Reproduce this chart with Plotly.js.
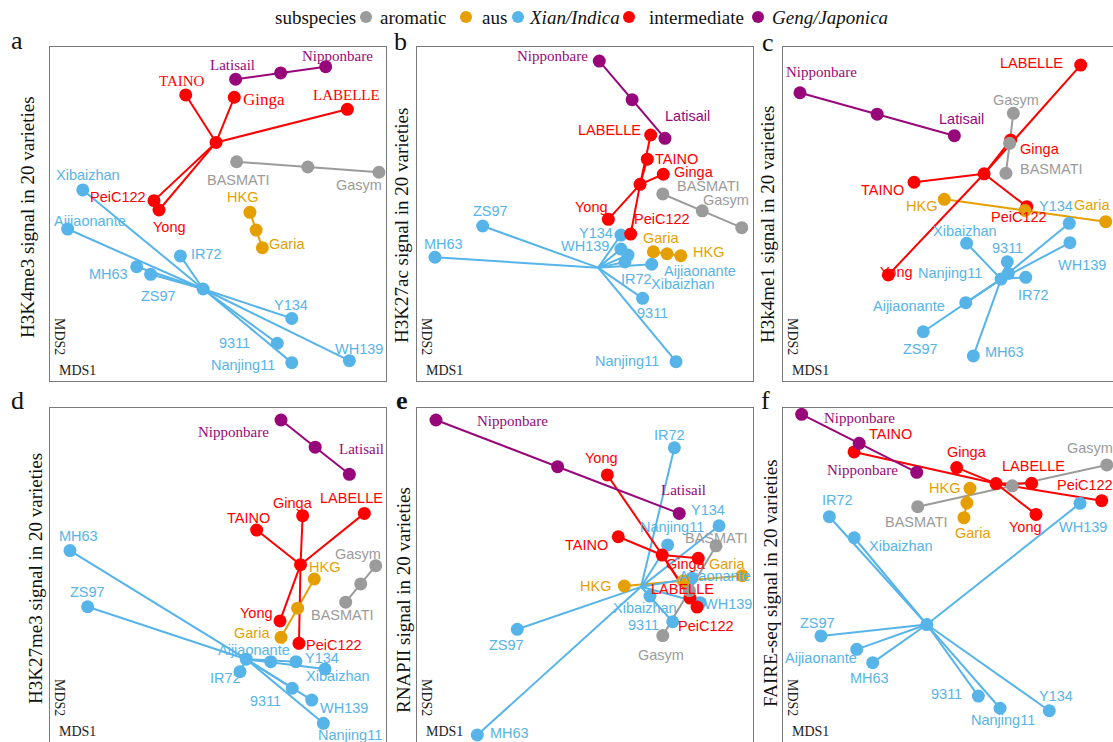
<!DOCTYPE html>
<html>
<head>
<meta charset="utf-8">
<script src="https://cdn.plot.ly/plotly-3.0.1.min.js"></script>
<style>
  html, body { margin: 0; padding: 0; overflow: hidden; background: #ffffff; }
  #chart { width: 1120px; height: 746px; }
</style>
</head>
<body>
<div id="chart"></div>
<script>
// ---- varieties and their subspecies ----
const varieties = ["Nipponbare", "Latisail", "TAINO", "Ginga", "LABELLE", "PeiC122", "Yong",
  "BASMATI", "Gasym", "HKG", "Garia", "Xibaizhan", "Aijiaonante", "MH63", "ZS97", "IR72",
  "Y134", "9311", "WH139", "Nanjing11"];
const subspecies = ["Geng/Japonica", "Geng/Japonica", "intermediate", "intermediate", "intermediate",
  "intermediate", "intermediate", "aromatic", "aromatic", "aus", "aus", "Xian/Indica", "Xian/Indica",
  "Xian/Indica", "Xian/Indica", "Xian/Indica", "Xian/Indica", "Xian/Indica", "Xian/Indica", "Xian/Indica"];
const groups = ["aromatic", "aus", "Xian/Indica", "intermediate", "Geng/Japonica"];
const groupLegendText = ["aromatic", "aus", "<i>Xian/Indica</i>", "intermediate", "<i>Geng/Japonica</i>"];

// ---- MDS coordinates (MDS1, MDS2) for each assay ----
const h3k4me3X = [0.641, 0.105, -0.192, 0.097, 0.770, -0.381, -0.351, 0.111, 0.958, 0.190, 0.264, -0.805, -0.895, -0.484, -0.401, -0.224, 0.439, 0.353, 0.782, 0.439];
const h3k4me3Y = [0.882, 0.807, 0.713, 0.699, 0.627, 0.080, 0.024, 0.313, 0.250, 0.010, -0.202, 0.144, -0.090, -0.316, -0.361, -0.251, -0.625, -0.774, -0.878, -0.890];

const h3k27acX = [0.085, 0.476, 0.371, 0.466, 0.391, 0.272, 0.139, 0.463, 0.933, 0.570, 0.407, 0.256, 0.397, -0.893, -0.609, 0.238, 0.214, 0.343, 0.214, 0.542];
const h3k27acY = [0.916, 0.453, 0.328, 0.238, 0.473, -0.120, -0.032, 0.120, -0.082, -0.250, -0.226, -0.246, -0.301, -0.259, -0.072, -0.287, -0.126, -0.505, -0.210, -0.884];

const h3k4me1X = [-0.899, 0.020, -0.220, 0.355, 0.772, 0.451, -0.373, 0.327, 0.371, -0.040, 0.921, 0.093, 0.088, 0.133, -0.165, 0.445, 0.704, 0.335, 0.708, 0.341];
const h3k4me1Y = [0.726, 0.469, 0.190, 0.443, 0.892, 0.044, -0.365, 0.244, 0.603, 0.088, -0.046, -0.175, -0.531, -0.850, -0.705, -0.379, -0.056, -0.286, -0.172, -0.355];

const h3k27me3X = [0.375, 0.782, 0.230, 0.504, 0.871, 0.482, 0.369, 0.760, 0.939, 0.573, 0.375, 0.637, 0.314, -0.881, -0.776, 0.131, 0.464, 0.442, 0.558, 0.627];
const h3k27me3Y = [0.928, 0.603, 0.269, 0.355, 0.369, -0.409, -0.275, -0.163, 0.056, -0.024, -0.373, -0.563, -0.519, 0.146, -0.190, -0.579, -0.519, -0.678, -0.749, -0.888];

const rnapiiX = [-0.887, 0.561, 0.198, 0.674, 0.625, 0.667, 0.133, 0.780, 0.463, 0.234, 0.936, 0.387, 0.635, -0.641, -0.403, 0.532, 0.798, 0.522, 0.685, 0.492];
const rnapiiY = [0.928, 0.369, 0.229, 0.100, -0.138, -0.192, 0.599, 0.175, -0.363, -0.066, -0.004, -0.126, -0.020, -0.958, -0.325, 0.762, 0.295, -0.280, -0.166, 0.180];

const faireX = [-0.889, -0.204, -0.577, 0.034, 0.480, 0.897, 0.506, -0.198, 0.927, 0.113, 0.077, -0.576, -0.561, -0.466, -0.774, -0.724, 0.585, 0.163, 0.768, 0.292];
const faireY = [0.962, 0.615, 0.737, 0.643, 0.549, 0.445, 0.363, 0.409, 0.659, 0.519, 0.343, 0.223, -0.445, -0.525, -0.365, 0.349, -0.813, -0.725, 0.429, -0.798];

// point labels as printed in the FAIRE-seq panel
const faireLabels = ["Nipponbare", "Nipponbare", "TAINO", "Ginga", "LABELLE", "PeiC122", "Yong",
  "BASMATI", "Gasym", "HKG", "Garia", "Xibaizhan", "Aijiaonante", "MH63", "ZS97", "IR72",
  "Y134", "9311", "WH139", "Nanjing11"];

const panelTitles = ["H3K4me3 signal in 20 varieties", "H3K27ac signal in 20 varieties",
  "H3k4me1 signal in 20 varieties", "H3K27me3 signal in 20 varieties",
  "RNAPII signal in 20 varieties", "FAIRE-seq signal in 20 varieties"];
const panelLetters = ["a", "b", "c", "d", "e", "f"];

// ---- styling ----
const W = 1120, H = 746;
const colors = {
  "aromatic": "#9b9b9b",
  "aus": "#E69F00",
  "Xian/Indica": "#56B4E9",
  "intermediate": "#FF0000",
  "Geng/Japonica": "#98077A"
};
const SERIF = "Liberation Serif, Times New Roman, serif";
const SANS = "Liberation Sans, Arial, sans-serif";

// plot frames in page pixels: [left, top], each 336 x 334
const frames = [[50, 47], [417, 47], [783, 47], [50, 408], [417, 408], [783, 408]];
const PW = 336, PH = 334;

// label nudges (px, right / up) per panel, in variety order
const nudges = [
  [[12,11],[-3,14],[-4,14],[30,-2],[-1,14],[-36,4],[10,-17],[2,-18],[-20,-13],[-7,15],[25,4],[5,15],[22,8],[-28,-7],[8,-22],[26,2],[-1,13],[-43,0],[10,12],[-49,-2]],
  [[-47,5],[23,22],[29,0],[31,2],[-41,5],[31,15],[-17,12],[46,8],[-16,28],[28,4],[8,14],[55,-29],[48,-7],[9,13],[8,15],[12,-17],[-25,2],[10,-15],[-36,3],[-49,1]],
  [[22,21],[7,17],[-32,-8],[29,-9],[-49,2],[-8,-10],[8,3],[46,4],[3,13],[-23,-7],[-14,17],[-2,12],[-57,-3],[31,4],[-3,-17],[8,-18],[-13,17],[0,14],[12,-22],[-58,0]],
  [[-48,-12],[12,25],[-8,12],[-10,13],[-13,15],[35,-2],[-23,8],[-3,-13],[-18,12],[10,12],[-29,4],[13,-7],[-17,12],[9,15],[0,15],[-15,-6],[26,4],[-27,-13],[32,-8],[27,-12]],
  [[77,-1],[4,23],[-32,-8],[-12,-6],[-8,9],[9,-19],[-6,17],[0,8],[-2,-19],[-29,0],[-15,12],[-5,-12],[23,2],[32,2],[-11,-16],[-5,13],[-11,16],[-29,-3],[28,-1],[4,18]],
  [[58,-4],[-54,2],[36,18],[10,16],[2,17],[-17,16],[-11,-13],[-1,-15],[-17,17],[-25,0],[9,-15],[47,-8],[-36,-9],[-3,-15],[-3,13],[8,17],[7,15],[-32,2],[3,-24],[3,-12]]
];
// labels set in a serif face (with size) per panel
const serifLabels = [
  {"Nipponbare": 15, "Latisail": 15, "TAINO": 15, "Ginga": 17, "LABELLE": 15},
  {"Nipponbare": 15},
  {"Nipponbare": 15},
  {"Nipponbare": 15, "Latisail": 15},
  {"Nipponbare": 15, "Latisail": 15},
  {"Nipponbare": 15}
];
// group centres drawn without a dot
const hiddenCentres = [[], ["Xian/Indica"], [], [], ["Xian/Indica"], []];
// positions of the side titles and panel letters (page px)
const titlePos = [[27, 217], [402, 226], [768, 225], [35, 579], [403, 600], [770, 583]];
const letterPos = [[17, 40], [400, 41], [768, 42], [17, 400], [402, 400], [765, 400]];

const panelData = [
  [h3k4me3X, h3k4me3Y, varieties],
  [h3k27acX, h3k27acY, varieties],
  [h3k4me1X, h3k4me1Y, varieties],
  [h3k27me3X, h3k27me3Y, varieties],
  [rnapiiX, rnapiiY, varieties],
  [faireX, faireY, faireLabels]
];

const px = v => v / W;
const py = v => 1 - v / H;
const mean = a => a.reduce((s, v) => s + v, 0) / a.length;

const traces = [];
const annotations = [];
const shapes = [];
const layout = {
  width: W, height: H,
  margin: {l: 0, r: 0, t: 0, b: 0},
  paper_bgcolor: "#ffffff", plot_bgcolor: "#ffffff",
  showlegend: false,
  hovermode: false
};

panelData.forEach(([xs, ys, labels], p) => {
  const k = p + 1;
  const xa = k === 1 ? "x" : "x" + k;
  const ya = k === 1 ? "y" : "y" + k;
  const [left, top] = frames[p];

  const axisCommon = {
    range: [-1, 1], showgrid: false, zeroline: false, showticklabels: false, ticks: "",
    showline: true, mirror: true, linecolor: "#7a7a7a", linewidth: 1.2, fixedrange: true
  };
  layout[k === 1 ? "xaxis" : "xaxis" + k] = Object.assign({}, axisCommon,
    {domain: [px(left), px(left + PW)], anchor: ya});
  layout[k === 1 ? "yaxis" : "yaxis" + k] = Object.assign({}, axisCommon,
    {domain: [py(top + PH), py(top)], anchor: xa});

  const centres = {};
  groups.forEach(g => {
    const idx = subspecies.map((s, i) => s === g ? i : -1).filter(i => i >= 0);
    centres[g] = {idx, cx: mean(idx.map(i => xs[i])), cy: mean(idx.map(i => ys[i]))};
  });

  // spokes from each group centre to its members
  groups.forEach(g => {
    const c = centres[g];
    const sx = [], sy = [];
    c.idx.forEach(i => { sx.push(c.cx, xs[i], null); sy.push(c.cy, ys[i], null); });
    traces.push({x: sx, y: sy, xaxis: xa, yaxis: ya, type: "scatter", mode: "lines",
      line: {color: colors[g], width: 2}, hoverinfo: "skip"});
  });
  // varieties
  groups.forEach(g => {
    const c = centres[g];
    traces.push({x: c.idx.map(i => xs[i]), y: c.idx.map(i => ys[i]), xaxis: xa, yaxis: ya,
      type: "scatter", mode: "markers", marker: {color: colors[g], size: 13, line: {width: 0}},
      hoverinfo: "skip"});
  });
  // group centres
  groups.forEach(g => {
    if (hiddenCentres[p].includes(g)) return;
    const c = centres[g];
    traces.push({x: [c.cx], y: [c.cy], xaxis: xa, yaxis: ya, type: "scatter", mode: "markers",
      marker: {color: colors[g], size: 13, line: {width: 0}}, hoverinfo: "skip"});
  });

  // variety labels
  labels.forEach((name, i) => {
    const serifSize = serifLabels[p][name];
    annotations.push({
      x: xs[i], y: ys[i], xref: xa, yref: ya, text: name, showarrow: false,
      xshift: nudges[p][i][0], yshift: nudges[p][i][1],
      font: {family: serifSize ? SERIF : SANS, size: serifSize || 14.5, color: colors[subspecies[i]]}
    });
  });

  // side title, panel letter, MDS axis tags
  annotations.push({
    x: px(titlePos[p][0]), y: py(titlePos[p][1]), xref: "paper", yref: "paper",
    text: panelTitles[p], textangle: -90, showarrow: false, xanchor: "center", yanchor: "middle",
    font: {family: SERIF, size: 19, color: "#111111"}
  });
  annotations.push({
    x: px(letterPos[p][0]), y: py(letterPos[p][1]), xref: "paper", yref: "paper",
    text: panelLetters[p] === "e" ? "<b>e</b>" : panelLetters[p], showarrow: false,
    xanchor: "center", yanchor: "middle", font: {family: SERIF, size: 26, color: "#111111"}
  });
  annotations.push({
    x: px(left + 27), y: py(top + PH - 11), xref: "paper", yref: "paper", text: "MDS1",
    showarrow: false, xanchor: "center", yanchor: "middle",
    font: {family: SERIF, size: 14, color: "#222222"}
  });
  annotations.push({
    x: px(left + 10), y: py(top + PH - 45), xref: "paper", yref: "paper", text: "MDS2",
    textangle: 90, showarrow: false, xanchor: "center", yanchor: "middle",
    font: {family: SERIF, size: 14, color: "#222222"}
  });
});

// ---- subspecies key across the top ----
const keyY = 17;
annotations.push({x: px(273), y: py(keyY), xref: "paper", yref: "paper", text: "subspecies",
  showarrow: false, xanchor: "left", yanchor: "middle", font: {family: SERIF, size: 19, color: "#111111"}});
const keyDots = [366, 466, 518, 629, 758];
const keyTexts = [378, 480, 527, 647, 770];
groups.forEach((g, i) => {
  shapes.push({type: "circle", xref: "paper", yref: "paper", xsizemode: "pixel", ysizemode: "pixel",
    xanchor: px(keyDots[i]), yanchor: py(keyY), x0: -6, x1: 6, y0: -6, y1: 6,
    fillcolor: colors[g], line: {width: 0}});
  annotations.push({x: px(keyTexts[i]), y: py(keyY), xref: "paper", yref: "paper",
    text: groupLegendText[i], showarrow: false, xanchor: "left", yanchor: "middle",
    font: {family: SERIF, size: 19, color: "#111111"}});
});

layout.annotations = annotations;
layout.shapes = shapes;

Plotly.newPlot("chart", traces, layout, {displayModeBar: false, staticPlot: true});
</script>
</body>
</html>
